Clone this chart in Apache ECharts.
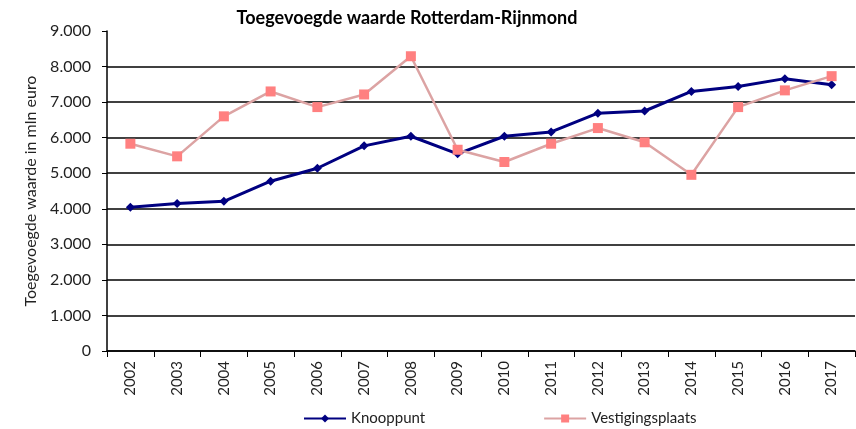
<!DOCTYPE html>
<html>
<head>
<meta charset="utf-8">
<script src="https://cdn.jsdelivr.net/npm/echarts@6/dist/echarts.min.js"></script>
<style>
  html, body { margin: 0; padding: 0; background: #fff; }
  #main { width: 856px; height: 429px; }
</style>
</head>
<body>
<div id="main"></div>
<script>
// jaren en waarden (mln euro)
const years = ['2002', '2003', '2004', '2005', '2006', '2007', '2008', '2009',
  '2010', '2011', '2012', '2013', '2014', '2015', '2016', '2017']
const knooppunt = [4045, 4150, 4210, 4775, 5140, 5770, 6040, 5545,
  6040, 6160, 6690, 6750, 7300, 7440, 7660, 7490]
const vestigingsplaats = [5830, 5475, 6600, 7300, 6860, 7215, 8290, 5660,
  5315, 5830, 6270, 5870, 4955, 6860, 7330, 7730]

const chart = echarts.init(document.getElementById('main'))
const font = 'Lato, "Open Sans", sans-serif'

// top gridline (9.000) is not drawn in the original
const gridColors = ['#000', '#000', '#000', '#000', '#000', '#000', '#000', '#000', '#000', 'rgba(0,0,0,0)']

const option = {
  animation: false,
  backgroundColor: '#fff',
  title: {
    text: 'Toegevoegde waarde Rotterdam-Rijnmond',
    left: 402,
    textAlign: 'center',
    top: 4,
    textStyle: { fontFamily: font, fontSize: 18, fontWeight: 'bold', color: '#000' }
  },
  legend: {
    left: 298,
    bottom: -2,
    itemWidth: 42,
    itemHeight: 10,
    itemGap: 118,
    textStyle: { fontFamily: font, fontSize: 15, color: '#222' },
    data: ['Knooppunt', 'Vestigingsplaats']
  },
  grid: { left: 107, right: 1, top: 31, bottom: 78 },
  xAxis: {
    type: 'category',
    data: years,
    boundaryGap: true,
    axisLine: { lineStyle: { color: '#000', width: 1.5 } },
    axisTick: { show: true, alignWithLabel: false, length: 6, lineStyle: { color: '#000' } },
    axisLabel: {
      rotate: 90,
      margin: 10,
      fontFamily: font,
      fontSize: 15,
      color: '#222'
    }
  },
  yAxis: {
    type: 'value',
    min: 0,
    max: 9000,
    interval: 1000,
    name: 'Toegevoegde waarde in mln euro',
    nameLocation: 'middle',
    nameGap: 68,
    nameTextStyle: { fontFamily: font, fontSize: 16, color: '#222' },
    axisLine: { show: true, lineStyle: { color: '#000', width: 1.5 } },
    axisTick: { show: true, length: 5, lineStyle: { color: '#000' } },
    splitLine: { show: true, lineStyle: { color: gridColors, width: 1.5 } },
    axisLabel: {
      margin: 16,
      fontFamily: font,
      fontSize: 16,
      color: '#222',
      formatter: v => v === 0 ? '0' : (v / 1000).toFixed(3)
    }
  },
  series: [
    {
      name: 'Knooppunt',
      type: 'line',
      data: knooppunt,
      symbol: 'diamond',
      symbolSize: 9,
      lineStyle: { color: '#000080', width: 3 },
      itemStyle: { color: '#000080' },
      z: 3
    },
    {
      name: 'Vestigingsplaats',
      type: 'line',
      data: vestigingsplaats,
      symbol: 'rect',
      symbolSize: 10,
      lineStyle: { color: '#DCA3A3', width: 2.5 },
      itemStyle: { color: '#FF8080' },
      z: 4
    }
  ]
}
chart.setOption(option)
</script>
</body>
</html>
